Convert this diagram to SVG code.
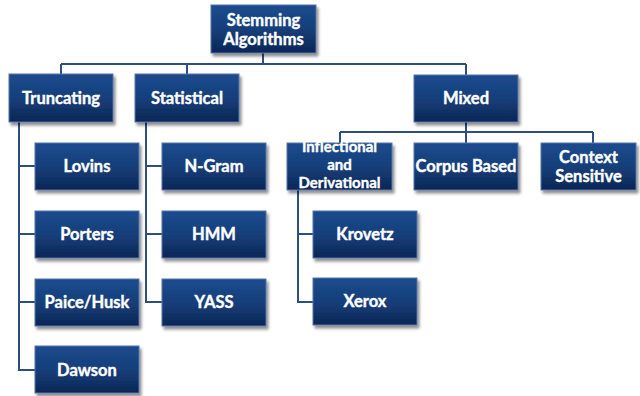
<svg xmlns="http://www.w3.org/2000/svg" width="640" height="396" viewBox="0 0 640 396">
<defs>
<linearGradient id="g" x1="0" y1="0" x2="0" y2="1">
<stop offset="0" stop-color="#1c4b8e"/>
<stop offset="0.5" stop-color="#163f7a"/>
<stop offset="1" stop-color="#0c2655"/>
</linearGradient>
<filter id="sh" x="-10%" y="-10%" width="125%" height="130%">
<feGaussianBlur in="SourceAlpha" stdDeviation="1.5"/>
<feOffset dx="1.5" dy="2.5" result="b"/>
<feComponentTransfer><feFuncA type="linear" slope="0.45"/></feComponentTransfer>
<feMerge><feMergeNode/><feMergeNode in="SourceGraphic"/></feMerge>
</filter>
</defs>
<style>
.box{fill:url(#g);stroke:#5677a8;stroke-width:1;filter:url(#sh)}
.t{font-family:Lato,"Open Sans",sans-serif;font-weight:bold;font-size:16.5px;fill:#ffffff;stroke:#ffffff;stroke-width:0.4;text-anchor:middle}
.s{font-size:15px}
.c{fill:none;stroke:#2c4f80;stroke-width:2}
</style>
<rect width="640" height="396" fill="#ffffff"/>
<g id="connectors">
<path class="c" d="M263 53V64M61 64H466M61 64V74M187 64V74M466 64V75"/>
<path class="c" d="M19 122V370H35M19 166H35M19 234H35M19 302H35"/>
<path class="c" d="M146 122V302H162M146 166H162M146 234H162"/>
<path class="c" d="M466 122V143M340 132H593M340 132V143M593 132V143"/>
<path class="c" d="M298 190V302H313M298 234H313"/>
</g>
<g id="root"><rect class="box" x="211" y="5" width="105" height="48"/><text class="t" x="263.5" y="26">Stemming</text><text class="t" x="263.5" y="45">Algorithms</text></g>
<g id="truncating"><rect class="box" x="9" y="74" width="104" height="48"/><text class="t" x="61" y="104">Truncating</text></g>
<g id="statistical"><rect class="box" x="135" y="74" width="104" height="48"/><text class="t" x="187" y="104">Statistical</text></g>
<g id="mixed"><rect class="box" x="414" y="75" width="104" height="47"/><text class="t" x="466" y="104">Mixed</text></g>
<g id="lovins"><rect class="box" x="35" y="143" width="104" height="47"/><text class="t" x="87" y="172">Lovins</text></g>
<g id="porters"><rect class="box" x="35" y="211" width="104" height="47"/><text class="t" x="87" y="240">Porters</text></g>
<g id="paice"><rect class="box" x="35" y="279" width="104" height="47"/><text class="t" x="87" y="308">Paice/Husk</text></g>
<g id="dawson"><rect class="box" x="35" y="346" width="104" height="47"/><text class="t" x="87" y="376">Dawson</text></g>
<g id="ngram"><rect class="box" x="162" y="143" width="104" height="47"/><text class="t" x="214" y="172">N-Gram</text></g>
<g id="hmm"><rect class="box" x="162" y="211" width="104" height="47"/><text class="t" x="214" y="240">HMM</text></g>
<g id="yass"><rect class="box" x="162" y="279" width="104" height="47"/><text class="t" x="214" y="308">YASS</text></g>
<g id="inflectional"><rect class="box" x="287" y="143" width="105" height="47"/><text class="t s" x="339.5" y="152">Inflectional</text><text class="t s" x="339.5" y="170">and</text><text class="t s" x="339.5" y="188">Derivational</text></g>
<g id="corpus"><rect class="box" x="414" y="143" width="104" height="47"/><text class="t" x="466" y="172">Corpus Based</text></g>
<g id="context"><rect class="box" x="541" y="143" width="95" height="47"/><text class="t" x="588.5" y="163">Context</text><text class="t" x="588.5" y="182">Sensitive</text></g>
<g id="krovetz"><rect class="box" x="313" y="211" width="104" height="47"/><text class="t" x="365" y="240">Krovetz</text></g>
<g id="xerox"><rect class="box" x="313" y="278" width="104" height="47"/><text class="t" x="365" y="307">Xerox</text></g>
</svg>
